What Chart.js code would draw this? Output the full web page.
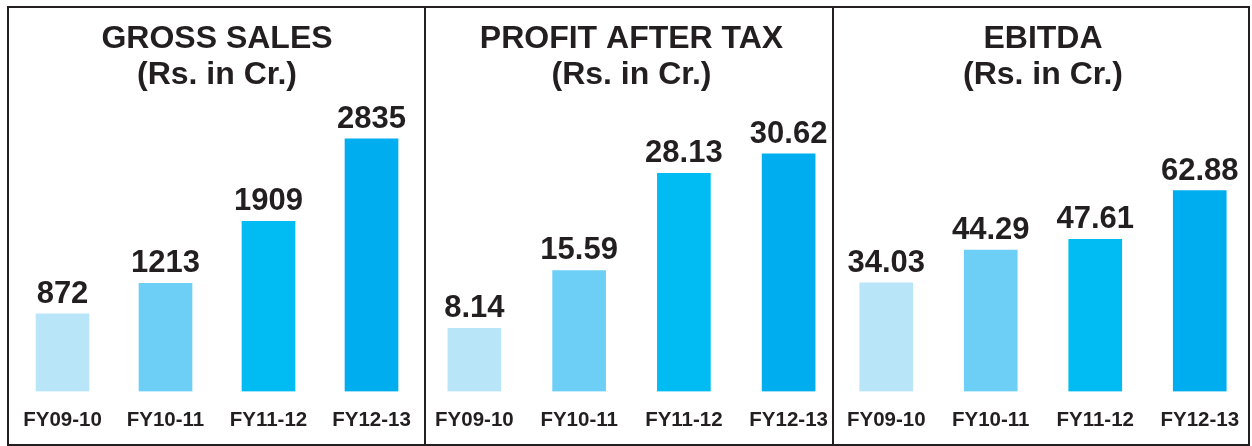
<!DOCTYPE html>
<html>
<head>
<meta charset="utf-8">
<script src="https://cdn.jsdelivr.net/npm/chart.js@4/dist/chart.umd.min.js"></script>
<style>
  html, body { margin: 0; padding: 0; background: #fff; }
  body { width: 1252px; height: 446px; position: relative; overflow: hidden; }
  canvas { position: absolute; top: 0; }
  .frame { position: absolute; left: 7px; top: 6px; width: 1243px; height: 440px;
           box-sizing: border-box; border: 2px solid #231f20; z-index: 5; }
  .divider { position: absolute; top: 6px; width: 2px; height: 440px; background: #231f20; z-index: 5; }
</style>
</head>
<body>
<canvas id="salesChart" width="412" height="446" style="left:11px"></canvas>
<canvas id="patChart" width="419" height="446" style="left:422px"></canvas>
<canvas id="ebitdaChart" width="418" height="446" style="left:834px"></canvas>
<div class="frame"></div>
<div class="divider" style="left:424px"></div>
<div class="divider" style="left:832px"></div>
<script>
const years = ['FY09-10', 'FY10-11', 'FY11-12', 'FY12-13'];
const grossSales = [872, 1213, 1909, 2835];
const profitAfterTax = [8.14, 15.59, 28.13, 30.62];
const ebitda = [34.03, 44.29, 47.61, 62.88];
const barColors = ['#b9e5f9', '#6dcff6', '#00bcf2', '#00aeef'];

const textColor = '#231f20';
const fontFamily = "'Liberation Sans', Arial, Helvetica, sans-serif";

// draws the value above each bar
const valueLabels = {
  id: 'valueLabels',
  afterDatasetsDraw(chart, args, opts) {
    const ctx = chart.ctx;
    const meta = chart.getDatasetMeta(0);
    const values = chart.data.datasets[0].data;
    ctx.save();
    ctx.font = `bold 31px ${fontFamily}`;
    ctx.fillStyle = textColor;
    ctx.textAlign = 'center';
    ctx.textBaseline = 'alphabetic';
    meta.data.forEach((bar, i) => {
      ctx.fillText(values[i].toFixed(opts.decimals), bar.x, bar.y - 11);
    });
    ctx.restore();
  },
};

function generateBarChart(elementId, title, values, yMax, decimals) {
  const ctx = document.getElementById(elementId)?.getContext('2d');
  return new Chart(ctx, {
    type: 'bar',
    data: {
      labels: years,
      datasets: [
        {
          data: values,
          backgroundColor: barColors,
          borderWidth: 0,
          barThickness: 53,
        },
      ],
    },
    plugins: [valueLabels],
    options: {
      responsive: false,
      animation: false,
      layout: { padding: { left: 0, right: 0, top: 0, bottom: -4 } },
      scales: {
        x: {
          grid: { display: false, drawTicks: false },
          border: { display: false },
          ticks: {
            color: textColor,
            padding: 17,
            font: { family: fontFamily, size: 20.5, weight: 'bold', lineHeight: 1.2 },
          },
          // keep the categories spread across the whole panel
          afterFit: (scale) => {
            scale.paddingLeft = 0;
            scale.paddingRight = 0;
          },
        },
        y: {
          display: false,
          min: 0,
          max: yMax,
        },
      },
      plugins: {
        legend: { display: false },
        tooltip: { enabled: false },
        title: {
          display: true,
          text: [title, '(Rs. in Cr.)'],
          color: textColor,
          padding: { top: 21, bottom: 7 },
          font: { family: fontFamily, size: 32, weight: 'bold', lineHeight: '36px' },
        },
        valueLabels: { decimals: decimals },
      },
    },
  });
}

generateBarChart('salesChart', 'GROSS SALES', grossSales, 3272, 0);
generateBarChart('patChart', 'PROFIT AFTER TAX', profitAfterTax, 37.57, 2);
generateBarChart('ebitdaChart', 'EBITDA', ebitda, 91.25, 2);
</script>
</body>
</html>
